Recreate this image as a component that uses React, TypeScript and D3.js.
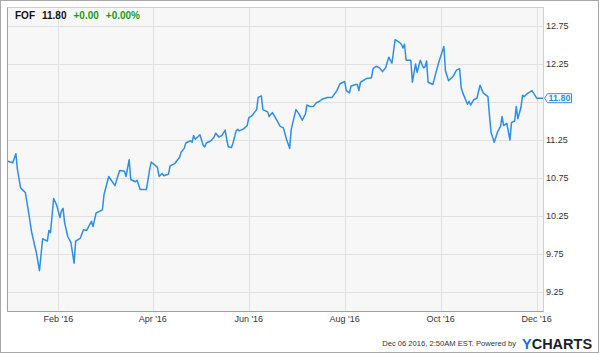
import React from "react";
import * as d3 from "d3";

const TICKER = "FOF";
const LAST_PRICE = "11.80";
const CHANGE = "+0.00";
const CHANGE_PCT = "+0.00%";
const TIMESTAMP = "Dec 06 2016, 2:50AM EST. Powered by";

const dates: string[] = [
  "2015-12-31","2016-01-03","2016-01-05","2016-01-06","2016-01-08","2016-01-11","2016-01-13","2016-01-15","2016-01-18","2016-01-20",
  "2016-01-22","2016-01-25","2016-01-26","2016-01-27","2016-01-29","2016-01-31","2016-02-02","2016-02-03","2016-02-04","2016-02-05",
  "2016-02-07","2016-02-09","2016-02-11","2016-02-12","2016-02-15","2016-02-17","2016-02-19","2016-02-22","2016-02-23","2016-02-25",
  "2016-02-29","2016-03-01","2016-03-04","2016-03-08","2016-03-09","2016-03-11","2016-03-14","2016-03-15","2016-03-17","2016-03-18",
  "2016-03-21","2016-03-22","2016-03-24","2016-03-28","2016-03-30","2016-03-31","2016-04-04","2016-04-05","2016-04-07","2016-04-08",
  "2016-04-11","2016-04-12","2016-04-15","2016-04-16","2016-04-18","2016-04-19","2016-04-21","2016-04-22","2016-04-25","2016-04-26",
  "2016-04-27","2016-04-28","2016-05-01","2016-05-03","2016-05-04","2016-05-05","2016-05-08","2016-05-10","2016-05-11","2016-05-13",
  "2016-05-15","2016-05-17","2016-05-18","2016-05-19","2016-05-21","2016-05-22","2016-05-24","2016-05-25","2016-05-26","2016-05-29",
  "2016-05-31","2016-06-01","2016-06-03","2016-06-06","2016-06-07","2016-06-09","2016-06-10","2016-06-13","2016-06-14","2016-06-16",
  "2016-06-18","2016-06-21","2016-06-23","2016-06-25","2016-06-27","2016-06-28","2016-07-01","2016-07-03","2016-07-05","2016-07-07",
  "2016-07-08","2016-07-10","2016-07-12","2016-07-14","2016-07-16","2016-07-18","2016-07-21","2016-07-24","2016-07-27","2016-07-29",
  "2016-08-01","2016-08-02","2016-08-04","2016-08-05","2016-08-08","2016-08-09","2016-08-10","2016-08-11","2016-08-15","2016-08-18",
  "2016-08-19","2016-08-21","2016-08-23","2016-08-25","2016-08-27","2016-08-29","2016-08-31","2016-09-02","2016-09-05","2016-09-06",
  "2016-09-07","2016-09-08","2016-09-09","2016-09-12","2016-09-13","2016-09-15","2016-09-16","2016-09-18","2016-09-20","2016-09-21",
  "2016-09-22","2016-09-23","2016-09-26","2016-09-28","2016-09-30","2016-10-03","2016-10-04","2016-10-06","2016-10-09","2016-10-11",
  "2016-10-13","2016-10-14","2016-10-15","2016-10-18","2016-10-19","2016-10-20","2016-10-22","2016-10-24","2016-10-26","2016-10-28",
  "2016-10-31","2016-11-01","2016-11-02","2016-11-04","2016-11-06","2016-11-08","2016-11-09","2016-11-10","2016-11-12","2016-11-14",
  "2016-11-15","2016-11-17","2016-11-18","2016-11-19","2016-11-21","2016-11-22","2016-11-23","2016-11-25","2016-11-28","2016-12-01",
  "2016-12-05",
];

const prices: number[] = [
  10.97,10.95,11.07,10.86,10.62,10.56,10.31,10.04,9.77,9.53,
  9.95,9.92,10.06,10.03,10.48,10.39,10.23,10.32,10.35,10.16,
  9.98,9.9,9.63,9.92,9.96,10.07,10.06,10.18,10.11,10.29,
  10.33,10.53,10.77,10.65,10.72,10.85,10.84,10.77,10.99,10.73,
  10.7,10.72,10.6,10.6,10.86,10.96,10.89,10.77,10.81,10.78,
  10.8,10.91,10.94,10.97,11.02,11.09,11.14,11.21,11.24,11.22,
  11.31,11.26,11.32,11.18,11.16,11.21,11.24,11.29,11.34,11.29,
  11.31,11.38,11.26,11.16,11.15,11.21,11.37,11.39,11.37,11.4,
  11.44,11.54,11.57,11.65,11.81,11.83,11.65,11.62,11.56,11.61,
  11.54,11.43,11.41,11.26,11.14,11.39,11.65,11.59,11.51,11.59,
  11.71,11.69,11.69,11.74,11.76,11.79,11.81,11.81,11.9,11.99,
  12.02,11.9,11.87,11.96,11.98,11.98,11.9,12.01,12.06,12.07,
  12.19,12.22,12.2,12.15,12.2,12.34,12.26,12.57,12.53,12.51,
  12.46,12.51,12.3,12.3,12.01,12.25,12.14,12.3,12.2,12.21,
  12.29,12.01,11.98,12.14,12.29,12.48,12.16,12.03,12.09,12.17,
  12.19,11.94,11.87,11.72,11.76,11.71,11.78,11.8,11.97,11.87,
  11.82,11.57,11.35,11.22,11.35,11.43,11.56,11.44,11.47,11.25,
  11.48,11.5,11.69,11.53,11.68,11.84,11.82,11.86,11.9,11.8,
  11.8,
];

const yTicks: number[] = [9.25, 9.75, 10.25, 10.75, 11.25, 11.75, 12.25, 12.75];
const xTickDates: string[] = ["2016-02-01", "2016-04-01", "2016-06-01", "2016-08-01", "2016-10-01", "2016-12-01"];
const xDomain: string[] = ["2015-12-31", "2016-12-05"];
const yDomain: number[] = [9, 13];

const W = 600;
const H = 354;
const P = { left: 7.5, right: 543.5, top: 7.5, bottom: 311.5 };
const FONT = "'Liberation Sans', Arial, Helvetica, sans-serif";
const BLUE = "#2c8fe6";
const GREEN = "#1a9a1a";

export default function App() {
  const parse = d3.timeParse("%Y-%m-%d");
  const data = dates.map((d, i) => ({ date: parse(d) as Date, value: prices[i] }));
  const x = d3.scaleTime().domain(xDomain.map((d) => parse(d) as Date)).range([8, 543]);
  const y = d3.scaleLinear().domain(yDomain).range([311, 7]);
  const line = d3
    .line<{ date: Date; value: number }>()
    .x((d) => x(d.date))
    .y((d) => y(d.value));
  const fmt = d3.timeFormat("%b '%y");
  const last = data[data.length - 1];
  const ly = y(last.value);

  return (
    <svg width={W} height={H} style={{ position: "absolute", left: 0, top: 0 }} fontFamily={FONT}>
      <rect x={0} y={0} width={W} height={H} fill="#fff" />
      <rect x={0.5} y={0.5} width={598} height={352} fill="none" stroke="#a8a8a8" />
      <rect x={P.left} y={P.top} width={P.right - P.left} height={P.bottom - P.top} fill="#f7f7f7" />
      {yTicks.map((t) => (
        <line key={"gy" + t} x1={P.left} x2={P.right} y1={Math.round(y(t)) + 0.5} y2={Math.round(y(t)) + 0.5} stroke="#e1e1e1" />
      ))}
      {xTickDates.map((t) => {
        const xx = Math.round(x(parse(t) as Date)) + 0.5;
        return <line key={"gx" + t} x1={xx} x2={xx} y1={P.top} y2={P.bottom} stroke="#e1e1e1" />;
      })}
      <rect x={P.left} y={P.top} width={P.right - P.left} height={P.bottom - P.top} fill="none" stroke="#cfcfcf" />
      <line x1={P.left} x2={P.left} y1={P.top} y2={P.bottom} stroke="#a0a0a0" />
      <line x1={P.left} x2={P.right} y1={P.bottom} y2={P.bottom} stroke="#a0a0a0" />
      <path d={line(data) || ""} fill="none" stroke={BLUE} strokeWidth={1.5} strokeLinejoin="round" />
      {yTicks
        .filter((t) => Math.abs(t - last.value) > 0.1)
        .map((t) => (
          <text key={"ty" + t} x={546} y={y(t)} dy="0.35em" fontSize={9} fill="#333">
            {t.toFixed(2)}
          </text>
        ))}
      {xTickDates.map((t) => (
        <text key={"tx" + t} x={x(parse(t) as Date)} y={322} fontSize={9} fill="#333" textAnchor="middle">
          {fmt(parse(t) as Date)}
        </text>
      ))}
      <path
        d={`M${P.right + 1},${ly} L${P.right + 4},${ly - 4.5} L${P.right + 28},${ly - 4.5} L${P.right + 28},${ly + 4.5} L${P.right + 4},${ly + 4.5} Z`}
        fill="#fff"
        stroke={BLUE}
      />
      <text x={P.right + 16} y={ly} dy="0.36em" fontSize={9} fontWeight="bold" fill={BLUE} textAnchor="middle">
        {last.value.toFixed(2)}
      </text>
      <text x={15} y={19} fontSize={10} fontWeight="bold">
        <tspan fill="#111">{TICKER}</tspan>
        <tspan fill="#111" dx={7}>{LAST_PRICE}</tspan>
        <tspan fill={GREEN} dx={7}>{CHANGE}</tspan>
        <tspan fill={GREEN} dx={7}>{CHANGE_PCT}</tspan>
      </text>
      <text x={516} y={346} fontSize={7.6} fill="#333" textAnchor="end">
        {TIMESTAMP}
      </text>
      <text x={522} y={348.5} fontSize={14.5} fontWeight="bold">
        <tspan fill="#1d6fd6">Y</tspan>
        <tspan fill="#1b1f2e">CHARTS</tspan>
      </text>
    </svg>
  );
}
